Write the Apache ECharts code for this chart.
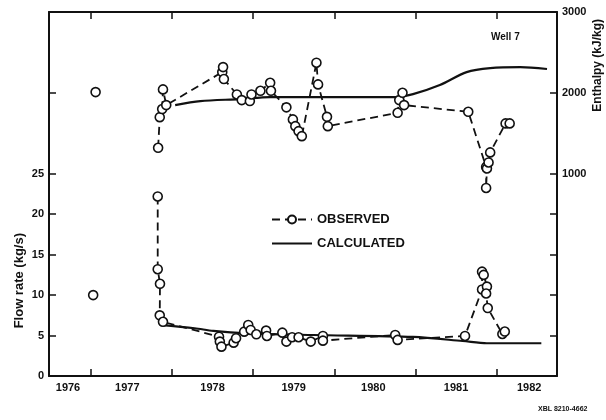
<!DOCTYPE html>
<html>
<head>
<meta charset="utf-8">
<script src="https://cdn.jsdelivr.net/npm/echarts@6/dist/echarts.min.js"></script>
<style>
  html, body { margin: 0; padding: 0; background: #fff; }
  #chart { width: 606px; height: 420px; }
</style>
</head>
<body>
<div id="chart"></div>
<script>
  // x in decimal years, tick marks sit on Jan 1
  var yearTicks = [1977, 1978, 1979, 1980, 1981, 1982];
  var yearLabelPos = [1976.72, 1977.45, 1978.5, 1979.5, 1980.48, 1981.5, 1982.4];
  var flowTicks = [0, 5, 10, 15, 20, 25, 35];
  var flowLabels = [0, 5, 10, 15, 20, 25];
  var enthTicks = [-1000, -500, 0, 500, 1000, 2000, 3000];
  var enthLabels = [1000, 2000, 3000];

  // enthalpy (kJ/kg)
  var enthObsYear = [1977.83, 1977.85, 1977.88, 1977.89, 1977.93, 1978.62, 1978.63, 1978.64,
    1978.80, 1978.86, 1978.96, 1978.98, 1979.09, 1979.21, 1979.22, 1979.41, 1979.49, 1979.52,
    1979.56, 1979.60, 1979.78, 1979.80, 1979.91, 1979.92, 1980.78, 1980.80, 1980.84, 1980.86,
    1981.65, 1981.87, 1981.87, 1981.88, 1981.90, 1981.92, 1982.11, 1982.16];
  var enthObs = [1321, 1700, 1800, 2043, 1849, 2257, 2319, 2171,
    1981, 1911, 1899, 1981, 2026, 2125, 2026, 1821, 1672, 1589,
    1527, 1465, 2373, 2105, 1704, 1589, 1754, 1911, 2001, 1849,
    1766, 1085, 825, 1066, 1140, 1264, 1623, 1623];
  var enthEarlyYear = [1977.06];
  var enthEarly = [2010];
  var enthCalcYear = [1978.04, 1978.35, 1978.84, 1979.21, 1979.95, 1980.75, 1980.97, 1981.30,
    1981.63, 1981.92, 1982.29, 1982.62];
  var enthCalc = [1849, 1899, 1923, 1948, 1948, 1948, 1985, 2097, 2257, 2307, 2319, 2295];

  // flow rate (kg/s)
  var flowObsYear = [1977.825, 1977.825, 1977.853, 1977.85, 1977.89, 1978.58, 1978.59, 1978.61,
    1978.76, 1978.79, 1978.89, 1978.94, 1978.97, 1979.04, 1979.16, 1979.17, 1979.36, 1979.41,
    1979.48, 1979.56, 1979.71, 1979.86, 1979.86, 1980.75, 1980.78, 1981.61, 1981.82, 1981.82,
    1981.84, 1981.88, 1981.87, 1981.89, 1982.07, 1982.10];
  var flowObs = [22.2, 13.2, 11.4, 7.5, 6.7, 4.86, 4.25, 3.63,
    4.12, 4.67, 5.48, 6.31, 5.69, 5.16, 5.61, 4.95, 5.36, 4.25,
    4.79, 4.79, 4.25, 4.95, 4.37, 5.07, 4.46, 4.95, 10.7, 12.9,
    12.5, 11.05, 10.2, 8.4, 5.2, 5.5];
  var flowEarlyYear = [1977.03];
  var flowEarly = [10.0];
  var flowCalcYear = [1977.85, 1978.28, 1978.51, 1978.92, 1979.74, 1980.97, 1981.58, 1981.88, 1982.55];
  var flowCalc = [6.31, 5.9, 5.57, 5.28, 5.07, 4.83, 4.33, 4.05, 4.05];

  function pairs(xs, ys) {
    var out = [];
    for (var i = 0; i < xs.length; i++) out.push([xs[i], ys[i]]);
    return out;
  }

  var font = '"Liberation Sans", Arial, sans-serif';
  var black = '#111';
  var circleStyle = { color: '#fff', borderColor: black, borderWidth: 1.6, opacity: 1 };

  var xBase = {
    type: 'value',
    min: 1976.486,
    max: 1982.743,
    axisLine: { onZero: false, lineStyle: { color: black, width: 2 } },
    axisTick: { inside: true, length: 7, lineStyle: { color: black, width: 1.5 }, customValues: yearTicks },
    splitLine: { show: false }
  };

  var option = {
    backgroundColor: '#fff',
    animation: false,
    grid: { left: 49, right: 49, top: 12, bottom: 44, containLabel: false },
    legend: {
      data: [
        { name: 'OBSERVED' },
        { name: 'CALCULATED', itemStyle: { opacity: 0 } }
      ],
      orient: 'vertical',
      left: 266,
      top: 208,
      itemWidth: 40,
      itemHeight: 10,
      itemGap: 11,
      selectedMode: false,
      textStyle: { color: black, fontFamily: font, fontWeight: 'bold', fontSize: 13 }
    },
    xAxis: [
      Object.assign({}, xBase, {
        position: 'bottom',
        axisLabel: {
          customValues: yearLabelPos,
          margin: 6,
          color: black, fontFamily: font, fontWeight: 'bold', fontSize: 11,
          formatter: function (v) { return String(Math.floor(v)); }
        }
      }),
      Object.assign({}, xBase, { position: 'top', axisLabel: { show: false } })
    ],
    yAxis: [
      {
        type: 'value', position: 'left', min: 0, max: 45,
        axisLine: { show: true, onZero: false, lineStyle: { color: black, width: 2 } },
        axisTick: { show: true, inside: true, length: 7, lineStyle: { color: black, width: 1.5 }, customValues: flowTicks },
        axisLabel: { customValues: flowLabels, margin: 5, color: black, fontFamily: font, fontWeight: 'bold', fontSize: 11,
          formatter: function (v) { return String(v); } },
        splitLine: { show: false }
      },
      {
        type: 'value', position: 'right', min: -1500, max: 3000,
        axisLine: { show: true, onZero: false, lineStyle: { color: black, width: 2 } },
        axisTick: { show: true, inside: true, length: 7, lineStyle: { color: black, width: 1.5 }, customValues: enthTicks },
        axisLabel: { customValues: enthLabels, margin: 5, color: black, fontFamily: font, fontWeight: 'bold', fontSize: 11,
          formatter: function (v) { return String(v); } },
        splitLine: { show: false }
      }
    ],
    graphic: [
      { type: 'text', left: 13, top: 233, rotation: Math.PI / 2,
        style: { text: 'Flow rate (kg/s)', fill: black, font: 'bold 13px ' + font } },
      { type: 'text', left: 592, top: 19, rotation: Math.PI / 2,
        style: { text: 'Enthalpy (kJ/kg)', fill: black, font: 'bold 12px ' + font } },
      { type: 'text', left: 491, top: 32,
        style: { text: 'Well 7', fill: black, font: 'bold 10px ' + font } },
      { type: 'text', left: 538, top: 406,
        style: { text: 'XBL 8210-4662', fill: black, font: 'bold 7px ' + font } }
    ],
    series: [
      {
        name: 'OBSERVED', type: 'line', xAxisIndex: 0, yAxisIndex: 1,
        data: pairs(enthObsYear, enthObs),
        symbol: 'circle', symbolSize: 9,
        itemStyle: circleStyle,
        lineStyle: { color: black, width: 1.8, type: [8, 5] }
      },
      {
        name: 'OBSERVED', type: 'line', xAxisIndex: 0, yAxisIndex: 0,
        data: pairs(flowObsYear, flowObs),
        symbol: 'circle', symbolSize: 9,
        itemStyle: circleStyle,
        lineStyle: { color: black, width: 1.8, type: [8, 5] }
      },
      {
        name: 'OBSERVED', type: 'scatter', xAxisIndex: 0, yAxisIndex: 1,
        data: pairs(enthEarlyYear, enthEarly), symbol: 'circle', symbolSize: 9,
        itemStyle: circleStyle
      },
      {
        name: 'OBSERVED', type: 'scatter', xAxisIndex: 0, yAxisIndex: 0,
        data: pairs(flowEarlyYear, flowEarly), symbol: 'circle', symbolSize: 9,
        itemStyle: circleStyle
      },
      {
        name: 'CALCULATED', type: 'line', xAxisIndex: 0, yAxisIndex: 1,
        data: pairs(enthCalcYear, enthCalc), smooth: 0.3, showSymbol: false, symbol: 'none',
        itemStyle: { color: black },
        lineStyle: { color: black, width: 2.2 }
      },
      {
        name: 'CALCULATED', type: 'line', xAxisIndex: 0, yAxisIndex: 0,
        data: pairs(flowCalcYear, flowCalc), smooth: 0.3, showSymbol: false, symbol: 'none',
        itemStyle: { color: black },
        lineStyle: { color: black, width: 2.2 }
      }
    ]
  };

  var chart = echarts.init(document.getElementById('chart'));
  chart.setOption(option);
</script>
</body>
</html>
